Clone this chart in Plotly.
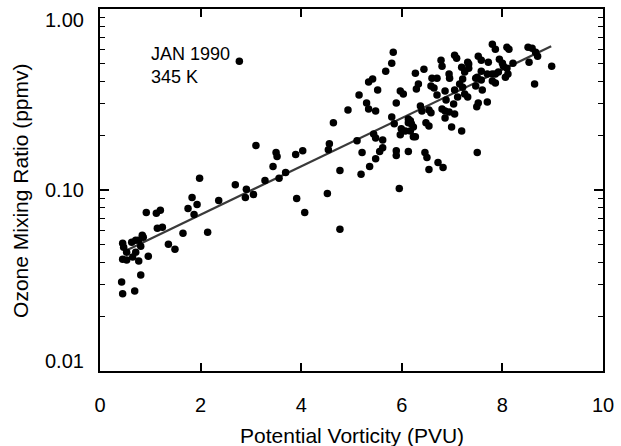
import plotly.graph_objects as go

# Potential vorticity (PVU) and ozone mixing ratio (ppmv)
pv = [0.45, 0.47, 0.53, 0.45, 0.53, 0.63, 0.71, 0.77, 0.71, 0.65, 0.77, 0.81, 0.84, 0.86, 0.96, 0.81,
      0.43, 0.45, 0.69, 0.92, 1.12, 1.20, 1.14, 1.24, 1.36, 1.49, 1.65, 1.75, 1.83, 1.93, 1.87, 1.98,
      2.14, 2.36, 2.69, 2.91, 2.89, 3.05, 3.28, 3.44, 3.50, 3.52, 3.56, 2.77, 3.10, 3.69,
      3.89, 4.03, 3.91, 4.07, 4.52, 4.77, 4.64, 4.56, 4.54, 4.77, 4.93, 5.15, 5.11, 5.19, 5.21, 5.30,
      5.34, 5.34, 5.42, 5.36, 5.44, 5.48, 5.48, 5.52, 5.48, 5.56, 5.62, 5.62, 5.68, 5.80, 5.83, 5.80,
      5.85, 5.89, 5.89, 5.89, 5.95,
      5.97, 6.03, 5.99, 5.97, 6.07, 6.13, 6.17, 6.13, 6.19, 6.23, 6.17, 6.23, 6.27, 6.13, 6.27, 6.29,
      6.33, 6.44, 6.37, 6.40, 6.48, 6.54, 6.46, 6.50, 6.54, 6.58, 6.64, 6.60, 6.70, 6.54, 6.58, 6.70,
      6.72, 6.82, 6.78, 6.80, 6.94, 6.95, 6.86, 6.88, 6.80, 6.86, 6.94, 6.86, 6.99, 7.05, 7.05, 7.09,
      7.03, 7.05,
      7.11, 7.15, 7.21, 7.19, 7.21, 7.19, 7.25, 7.31, 7.33, 7.33, 7.25, 7.31, 7.47, 7.47, 7.50, 7.52,
      7.49, 7.50, 7.52, 7.58, 7.58, 7.60, 7.70, 7.72, 7.70, 7.58, 7.80, 7.80, 7.86, 7.80, 7.86, 7.94,
      8.00, 8.02, 8.09, 7.92, 7.86, 8.11, 8.06, 8.09, 8.13, 8.21, 8.51, 8.59, 8.66, 8.70, 8.53, 8.64,
      8.98]
ozone = [0.0508, 0.0483, 0.0453, 0.0415, 0.0410, 0.0514, 0.0528, 0.0528, 0.0453, 0.0426, 0.0405, 0.0489,
         0.0562, 0.0548, 0.0431, 0.0339, 0.0310, 0.0267, 0.0277, 0.0752, 0.0743, 0.0772, 0.0614, 0.0622,
         0.0502, 0.0471, 0.0577, 0.0791, 0.0910, 0.0832, 0.0733, 0.116, 0.0584, 0.0876, 0.107, 0.101,
         0.0910, 0.0945, 0.113, 0.135, 0.161, 0.153, 0.116, 0.515, 0.176, 0.125,
         0.157, 0.165, 0.0898, 0.0752, 0.0957, 0.0607, 0.235, 0.180, 0.167, 0.128, 0.277, 0.335, 0.187,
         0.122, 0.161, 0.302, 0.280, 0.395, 0.410, 0.135, 0.204, 0.194, 0.273, 0.357, 0.149, 0.163, 0.171,
         0.189, 0.453, 0.502, 0.577, 0.253, 0.232, 0.302, 0.165, 0.155, 0.102,
         0.352, 0.339, 0.218, 0.202, 0.212, 0.247, 0.241, 0.235, 0.232, 0.223, 0.212, 0.197, 0.197, 0.163,
         0.442, 0.361, 0.385, 0.465, 0.291, 0.273, 0.235, 0.226, 0.161, 0.151, 0.130, 0.375, 0.366, 0.415,
         0.415, 0.277, 0.267, 0.335, 0.142, 0.133, 0.521, 0.483, 0.437, 0.415, 0.352, 0.314, 0.280, 0.273,
         0.270, 0.250, 0.223, 0.263, 0.555, 0.535, 0.299, 0.357,
         0.326, 0.385, 0.370, 0.477, 0.410, 0.212, 0.448, 0.508, 0.496, 0.471, 0.339, 0.326, 0.375, 0.415,
         0.420, 0.302, 0.288, 0.161, 0.548, 0.521, 0.453, 0.357, 0.306, 0.508, 0.437, 0.405, 0.437, 0.400,
         0.390, 0.638, 0.599, 0.528, 0.502, 0.483, 0.471, 0.448, 0.437, 0.437, 0.420, 0.614, 0.599, 0.502,
         0.614, 0.607, 0.577, 0.548, 0.508, 0.385, 0.483]

# Fitted line end points
fit_pv = [0.46, 8.97]
fit_ozone = [0.0455, 0.622]

x_ticks = [0, 2, 4, 6, 8, 10]
y_tick_vals = [0.01, 0.1, 1.0]
y_tick_text = ["0.01", "0.10", "1.00"]

FONT = "Liberation Sans, Arial, Helvetica, sans-serif"

fig = go.Figure()
fig.add_trace(go.Scatter(x=fit_pv, y=fit_ozone, mode="lines",
                         line=dict(color="#3a3a3a", width=2.2), showlegend=False))
fig.add_trace(go.Scatter(x=pv, y=ozone, mode="markers",
                         marker=dict(color="black", size=7.5, line=dict(width=0)), showlegend=False))

fig.update_layout(
    width=621, height=446,
    margin=dict(l=100, r=12, t=7, b=75),
    paper_bgcolor="white", plot_bgcolor="white",
    font=dict(family=FONT, size=20, color="black"),
    xaxis=dict(range=[0, 10], tickvals=x_ticks, ticks="inside", ticklen=8, tickwidth=1.5,
               tickcolor="black", showline=True, linecolor="black", linewidth=1.6,
               mirror="allticks", showgrid=False, zeroline=False, ticklabelstandoff=15,
               tickfont=dict(size=20)),
    yaxis=dict(type="log", range=[-2, 0], tickvals=y_tick_vals, showticklabels=False,
               ticks="inside", ticklen=9, tickwidth=1.5, tickcolor="black",
               showline=True, linecolor="black", linewidth=1.6, mirror="allticks",
               showgrid=False, zeroline=False,
               minor=dict(ticks="inside", ticklen=5, tickwidth=1.2, tickcolor="black",
                          dtick="D1", showgrid=False)),
    annotations=[
        dict(text="JAN 1990<br>345 K", x=(150 - 100) / 509, y=(371 - 64) / 364,
             xref="paper", yref="paper", xanchor="left", yanchor="middle", align="left",
             showarrow=False, font=dict(size=18)),
        dict(text="Potential Vorticity (PVU)", x=(355 - 100) / 509, y=(371 - 436) / 364,
             xref="paper", yref="paper",
             xanchor="center", yanchor="middle", showarrow=False, font=dict(size=21)),
        dict(text="Ozone Mixing Ratio (ppmv)", x=(20 - 100) / 509, y=(371 - 190) / 364,
             xref="paper", yref="paper", xanchor="center", yanchor="middle", textangle=-90,
             showarrow=False, font=dict(size=21)),
    ],
)

# y tick labels (edge labels sit inside the frame as in the original)
label_px = [361, 189, 18]
for txt, py in zip(y_tick_text, label_px):
    fig.add_annotation(text=txt, x=(86 - 100) / 509, y=(371 - py) / 364, xref="paper", yref="paper",
                       xanchor="right", yanchor="middle", showarrow=False, font=dict(size=20))

fig.write_html("out.html")
